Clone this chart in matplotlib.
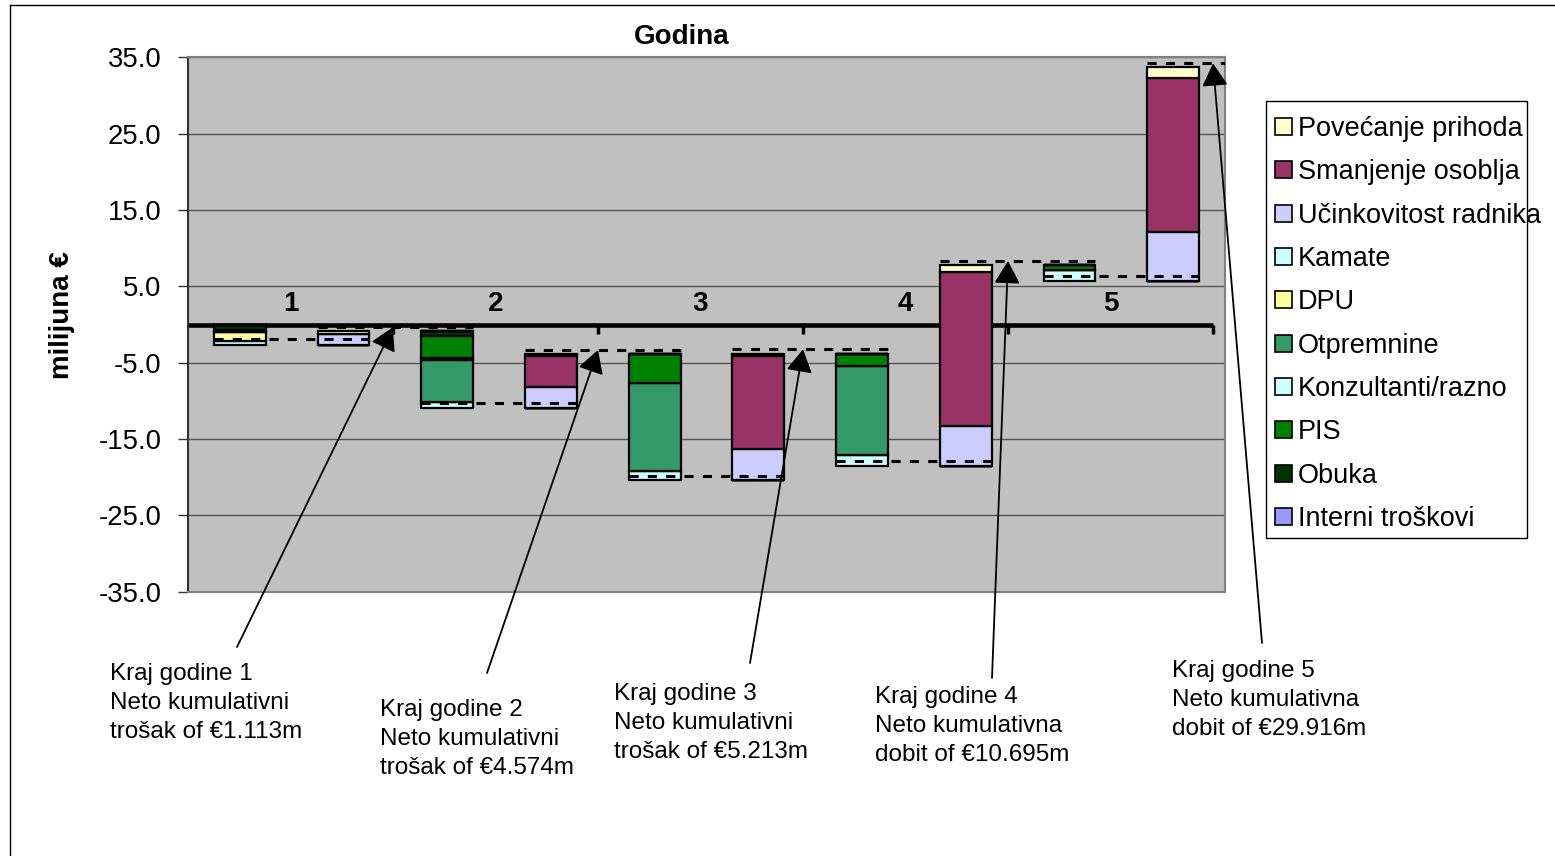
import matplotlib
matplotlib.use("Agg")
import matplotlib.pyplot as plt
from matplotlib.patches import Patch, Rectangle
from matplotlib.lines import Line2D
from matplotlib.transforms import blended_transform_factory

plt.rcParams['font.family'] = ['Liberation Sans', 'DejaVu Sans']

# ---- data (milijuna €) -------------------------------------------------
# Ten floating columns: for every year a cost column, then a benefit column
years = ['1', '2', '3', '4', '5']
column_base = [-2.65, -2.65, -10.94, -10.94, -20.39, -20.39, -18.59, -18.59, 5.75, 5.75]

# segment sizes per column
kamate       = [0.45, 0.00, 0.74, 0.00, 1.18, 0.00, 1.44, 0.00, 1.44, 0.00]
dpu          = [1.20, 0.00, 0.00, 0.00, 0.00, 0.00, 0.00, 0.00, 0.00, 0.00]
otpremnine   = [0.00, 0.00, 5.50, 0.00, 11.58, 0.00, 11.65, 0.00, 0.00, 0.00]
konzultanti  = [0.25, 0.00, 0.30, 0.00, 0.00, 0.00, 0.00, 0.00, 0.00, 0.00]
pis          = [0.00, 0.00, 2.84, 0.00, 3.80, 0.00, 1.70, 0.00, 0.56, 0.00]
obuka        = [0.75, 0.00, 0.66, 0.00, 0.00, 0.00, 0.00, 0.00, 0.00, 0.00]
interni      = [0.00, 0.00, 0.00, 0.00, 0.00, 0.00, 0.00, 0.00, 0.00, 0.00]
ucinkovitost = [0.00, 1.45, 0.00, 2.70, 0.00, 4.11, 0.00, 5.24, 0.00, 6.32]
smanjenje    = [0.00, 0.00, 0.00, 4.06, 0.00, 12.13, 0.00, 20.23, 0.00, 20.23]
povecanje    = [0.00, 0.30, 0.00, 0.35, 0.00, 0.35, 0.00, 0.87, 0.00, 1.44]

# dashed running-level connectors, each spanning a column and the next one
connector_level = [-1.94, -0.35, -10.24, -3.34, -19.85, -3.25, -17.84, 8.32, 6.35, 34.2]

# net cumulative result at the end of each year
net_cumulative = [-1.113, -4.574, -5.213, 10.695, 29.916]

yticks = [35.0, 25.0, 15.0, 5.0, -5.0, -15.0, -25.0, -35.0]

# ---- series styling (bottom of the stack first) -------------------------
stack = [
    ('Kamate', kamate, '#CCFFFF'),
    ('DPU', dpu, '#FFFF99'),
    ('Otpremnine', otpremnine, '#339966'),
    ('Konzultanti/razno', konzultanti, '#CCFFFF'),
    ('PIS', pis, '#008000'),
    ('Obuka', obuka, '#003300'),
    ('Interni troškovi', interni, '#9999FF'),
    ('Učinkovitost radnika', ucinkovitost, '#CCCCFF'),
    ('Smanjenje osoblja', smanjenje, '#993366'),
    ('Povećanje prihoda', povecanje, '#FFFFCC'),
]
legend_order = ['Povećanje prihoda', 'Smanjenje osoblja', 'Učinkovitost radnika',
                'Kamate', 'DPU', 'Otpremnine', 'Konzultanti/razno', 'PIS',
                'Obuka', 'Interni troškovi']

# ---- figure ------------------------------------------------------------
W, H = 1555, 856
fig = plt.figure(figsize=(W / 100, H / 100), dpi=100)


def fx(px):
    return px / W


def fy(py):
    return 1 - py / H


left, right, top, bottom = 188, 1225, 57.3, 591.7
ax = fig.add_axes([fx(left), fy(bottom), fx(right - left), (bottom - top) / H])
ax.set_facecolor('#C0C0C0')

n = len(column_base)
xs = list(range(n))
ax.set_xlim(-0.5, n - 0.5)
ax.set_ylim(-35, 35)

# stacked floating columns
running = list(column_base)
for name, vals, color in stack:
    ax.bar(xs, vals, width=0.5, bottom=running, color=color,
           edgecolor='black', linewidth=1.6, zorder=3)
    running = [r + v for r, v in zip(running, vals)]

# dashed connectors
for i, lvl in enumerate(connector_level):
    ax.hlines(lvl, i - 0.25, min(i + 1.25, n - 0.5), colors='black',
              linestyles=(0, (3, 3)), linewidth=2.2, zorder=4)

# axes styling
ax.set_yticks(yticks)
ax.set_yticklabels([f'{v:.1f}' for v in yticks])
ax.set_xticks([])
ax.yaxis.grid(True, color='#555555', linewidth=1.0)
ax.set_axisbelow(True)
ax.tick_params(axis='y', direction='out', length=7, width=1, color='#333333',
               labelsize=19.8, pad=12)
for side in ('top', 'right', 'bottom'):
    ax.spines[side].set_color('#808080')
    ax.spines[side].set_linewidth(1.5)
ax.spines['left'].set_color('#333333')
ax.spines['left'].set_linewidth(1.5)

# year axis running along zero
trans = blended_transform_factory(ax.transAxes, ax.transData)
year_frac = 205 / (right - left)
ax.plot([0, len(years) * year_frac], [0, 0], transform=trans, color='black',
        linewidth=3.3, solid_capstyle='butt', zorder=2.5, clip_on=False)
for k in range(1, len(years) + 1):
    ax.plot([k * year_frac] * 2, [0, -1.3], transform=trans, color='black',
            linewidth=2.5, solid_capstyle='butt', zorder=2.5, clip_on=False)
for k, lab in enumerate(years):
    ax.text((k + 0.5) * year_frac, 2.7, lab, transform=trans, ha='center',
            va='center', fontsize=20, fontweight='bold', zorder=5)

# titles
fig.text(fx(682), fy(37), 'Godina', ha='center', va='center',
         fontsize=20, fontweight='bold')
fig.text(fx(62), fy(315), 'milijuna €', ha='center', va='center',
         rotation=90, fontsize=20, fontweight='bold')

# end-of-year callouts (text anchored at the baseline of its last line)
tails = [(237, 647), (487, 673), (750, 663), (992, 678), (1262, 643)]
text_pos = [(110, 738), (380, 774), (614, 758), (875, 761), (1172, 735)]
for k, v in enumerate(net_cumulative):
    tip = ((k + 1) * year_frac, connector_level[2 * k + 1])
    ax.annotate('', xy=tip, xycoords=trans,
                xytext=(fx(tails[k][0]), fy(tails[k][1])),
                textcoords='figure fraction',
                arrowprops=dict(arrowstyle='-|>,head_length=0.7,head_width=0.4',
                                mutation_scale=20, color='black', lw=1.3,
                                shrinkA=0, shrinkB=0),
                annotation_clip=False, zorder=6)
    kind = 'trošak' if v < 0 else 'dobit'
    ending = 'i' if v < 0 else 'a'
    label = f'Kraj godine {k + 1}\nNeto kumulativn{ending}\n{kind} of €{abs(v):.3f}m'
    fig.text(fx(text_pos[k][0]), fy(text_pos[k][1]), label, ha='left',
             va='baseline', fontsize=17.5, linespacing=1.4)

# legend
colors = {name: color for name, _, color in stack}
handles = [Patch(facecolor=colors[nm], edgecolor='black', linewidth=1.2)
           for nm in legend_order]
fig.legend(handles, legend_order, loc='upper left',
           bbox_to_anchor=(fx(1275), fy(116)), bbox_transform=fig.transFigure,
           frameon=False, fontsize=19.5, borderpad=0, borderaxespad=0,
           handlelength=0.63, handleheight=0.6, handletextpad=0.22,
           labelspacing=0.64)
fig.add_artist(Rectangle((fx(1266), fy(538)), fx(1527 - 1266), (538 - 101) / H,
                         transform=fig.transFigure, fill=False,
                         edgecolor='black', linewidth=1.0))

# outer chart border
fig.add_artist(Line2D([fx(9.5), fx(9.5)], [0, fy(5)], transform=fig.transFigure,
                      color='black', linewidth=1.0))
fig.add_artist(Line2D([fx(9.5), 1], [fy(5), fy(5)], transform=fig.transFigure,
                      color='black', linewidth=1.0))

fig.savefig('out.png', dpi=100)
